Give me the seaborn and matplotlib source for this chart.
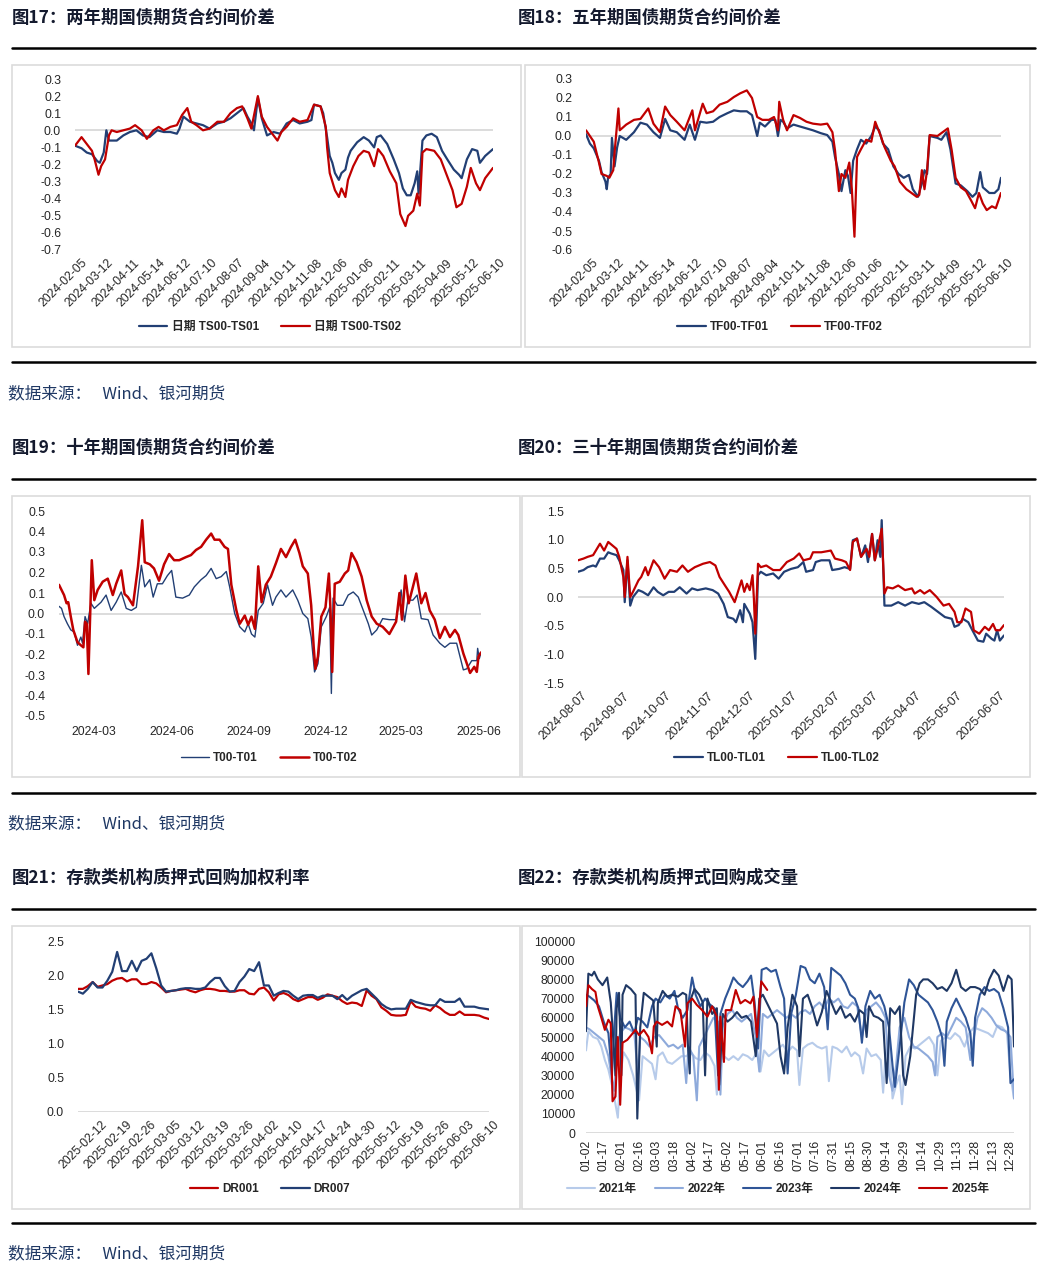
import numpy as np
import pandas as pd
import matplotlib
matplotlib.use("Agg")
import matplotlib.pyplot as plt
import matplotlib.transforms as mtrans
from matplotlib.patches import Rectangle
import seaborn as sns

sns.set_theme(style="white")
plt.rcParams['font.family'] = ['Liberation Sans', 'Noto Sans CJK SC']

W, H = 1046, 1276
NAVY = '#223f74'
RED = '#c00000'

# ---- 图17 two-year: (trading day offset, spread) ----
ts_ticks = ['2024-02-05', '2024-03-12', '2024-04-11', '2024-05-14', '2024-06-12', '2024-07-10',
            '2024-08-07', '2024-09-04', '2024-10-11', '2024-11-08', '2024-12-06', '2025-01-06',
            '2025-02-11', '2025-03-11', '2025-04-09', '2025-05-12', '2025-06-10']
ts01 = [(0, -0.09), (5, -0.105), (9, -0.13), (13, -0.14), (17, -0.18), (19, -0.19), (22, -0.13), (24, 0.0),
        (26, -0.06), (32, -0.06), (37, -0.03), (42, -0.01), (47, 0.0), (52, -0.03), (57, -0.04), (63, 0.0),
        (68, -0.01), (73, -0.01), (78, -0.02), (80, 0.01), (83, 0.08), (88, 0.05), (93, 0.04), (98, 0.03),
        (103, 0.01), (109, 0.04), (114, 0.05), (119, 0.07), (124, 0.10), (129, 0.13), (132, 0.08), (135, 0.04),
        (137, 0.0), (140, 0.19), (143, 0.07), (147, -0.03), (152, -0.01), (157, -0.02), (162, 0.04), (167, 0.06),
        (172, 0.04), (178, 0.05), (181, 0.06), (183, 0.15), (188, 0.14), (190, 0.10), (193, -0.04), (195, -0.15),
        (197, -0.19), (199, -0.25), (202, -0.29), (204, -0.25), (207, -0.23), (209, -0.16), (211, -0.12),
        (216, -0.07), (221, -0.04), (225, -0.06), (229, -0.10), (231, -0.04), (234, -0.03), (239, -0.08),
        (244, -0.17), (248, -0.25), (251, -0.34), (254, -0.38), (257, -0.38), (260, -0.31), (262, -0.24),
        (263, -0.37), (266, -0.06), (269, -0.03), (273, -0.02), (277, -0.04), (281, -0.12), (285, -0.17),
        (290, -0.23), (294, -0.26), (296, -0.28), (300, -0.17), (304, -0.11), (308, -0.12), (310, -0.19),
        (314, -0.15), (320, -0.11)]
ts02 = [(0, -0.09), (5, -0.04), (9, -0.08), (13, -0.12), (15, -0.17), (18, -0.26), (20, -0.21), (23, -0.17),
        (26, -0.03), (28, 0.0), (32, -0.01), (37, 0.0), (42, 0.01), (46, 0.03), (51, 0.0), (55, -0.05),
        (60, 0.0), (64, 0.02), (68, 0.0), (73, 0.02), (78, 0.03), (82, 0.09), (86, 0.13), (89, 0.05),
        (93, 0.03), (98, 0.0), (103, 0.01), (109, 0.05), (114, 0.05), (119, 0.10), (124, 0.13), (128, 0.14),
        (132, 0.07), (135, 0.01), (140, 0.20), (143, 0.08), (147, 0.02), (151, -0.02), (155, -0.06),
        (158, -0.01), (162, 0.02), (167, 0.07), (172, 0.05), (178, 0.06), (183, 0.15), (188, 0.14), (192, 0.02),
        (193, -0.10), (195, -0.25), (199, -0.35), (202, -0.39), (204, -0.34), (207, -0.39), (209, -0.29),
        (213, -0.21), (217, -0.15), (221, -0.12), (225, -0.13), (229, -0.21), (232, -0.11), (236, -0.15),
        (241, -0.24), (246, -0.31), (249, -0.49), (253, -0.56), (255, -0.50), (259, -0.47), (262, -0.37),
        (264, -0.44), (266, -0.13), (269, -0.11), (275, -0.12), (280, -0.17), (284, -0.25), (289, -0.35),
        (292, -0.45), (296, -0.43), (300, -0.33), (303, -0.22), (307, -0.31), (310, -0.35), (314, -0.28),
        (320, -0.22)]

# ---- 图18 five-year ----
tf01 = [(0, 0.01), (3, -0.04), (6, -0.065), (10, -0.13), (12, -0.19), (15, -0.24), (16, -0.28), (17, -0.22),
        (19, -0.20), (20, -0.01), (22, -0.16), (24, -0.06), (26, 0.0), (31, -0.02), (37, 0.02), (42, 0.07),
        (47, 0.06), (52, 0.02), (57, -0.01), (61, 0.09), (65, 0.03), (70, 0.02), (76, -0.02), (80, 0.06),
        (84, -0.02), (88, 0.075), (93, 0.07), (98, 0.075), (103, 0.10), (109, 0.12), (114, 0.135), (119, 0.13),
        (124, 0.13), (128, 0.11), (132, 0.0), (134, 0.07), (138, 0.05), (143, 0.085), (146, 0.085), (148, 0.0),
        (150, 0.085), (152, 0.075), (155, 0.04), (160, 0.06), (165, 0.05), (170, 0.04), (175, 0.03),
        (181, 0.015), (186, 0.005), (190, -0.03), (192, -0.11), (195, -0.20), (197, -0.29), (200, -0.18),
        (202, -0.21), (204, -0.30), (206, -0.13), (209, -0.07), (212, -0.02), (216, -0.04), (220, 0.0),
        (223, 0.05), (226, 0.03), (229, -0.04), (233, -0.07), (237, -0.16), (241, -0.20), (245, -0.22),
        (249, -0.205), (252, -0.28), (256, -0.32), (259, -0.25), (261, -0.18), (263, -0.20), (265, 0.0),
        (271, -0.01), (274, -0.02), (278, 0.02), (281, -0.07), (285, -0.25), (289, -0.26), (294, -0.29),
        (298, -0.32), (301, -0.30), (304, -0.19), (306, -0.27), (311, -0.30), (315, -0.30), (318, -0.28),
        (320, -0.22)]
tf02 = [(0, 0.03), (3, 0.0), (6, -0.03), (10, -0.14), (12, -0.20), (16, -0.21), (18, -0.22), (21, -0.18),
        (22, -0.09), (25, 0.145), (26, 0.03), (31, 0.06), (37, 0.085), (42, 0.09), (48, 0.145), (52, 0.065),
        (57, 0.02), (61, 0.155), (65, 0.11), (70, 0.075), (76, 0.03), (82, 0.135), (84, 0.03), (90, 0.17),
        (93, 0.12), (98, 0.13), (103, 0.165), (109, 0.18), (114, 0.205), (119, 0.225), (124, 0.24), (128, 0.20),
        (132, 0.10), (136, 0.085), (141, 0.085), (145, 0.10), (148, 0.03), (149, 0.18), (152, 0.085),
        (155, 0.03), (160, 0.11), (165, 0.095), (170, 0.075), (175, 0.065), (181, 0.06), (186, 0.065),
        (190, 0.02), (192, -0.075), (195, -0.29), (197, -0.20), (200, -0.22), (203, -0.14), (205, -0.28),
        (207, -0.53), (209, -0.11), (212, -0.07), (216, -0.02), (220, -0.03), (223, 0.075), (227, 0.005),
        (230, -0.055), (235, -0.13), (238, -0.16), (242, -0.24), (247, -0.28), (251, -0.30), (255, -0.32),
        (257, -0.31), (259, -0.18), (261, -0.28), (263, -0.18), (265, 0.005), (271, 0.0), (274, 0.015),
        (279, 0.04), (282, -0.075), (285, -0.22), (289, -0.27), (293, -0.29), (297, -0.34), (300, -0.38),
        (303, -0.30), (306, -0.355), (309, -0.39), (313, -0.37), (316, -0.38), (320, -0.30)]

# ---- 图19 ten-year: (days from 2024-03-01, spread) ----
t_base = '2024-03-01'
t01 = [(-42, 0.035), (-39, 0.025), (-36, -0.015), (-32, -0.05), (-28, -0.08), (-24, -0.09), (-20, -0.155),
       (-16, -0.115), (-14, -0.145), (-11, -0.015), (-8, -0.05), (-4, 0.05), (0, 0.025), (4, 0.04), (8, 0.055),
       (14, 0.09), (20, 0.015), (26, 0.055), (32, 0.105), (38, 0.025), (44, 0.015), (50, 0.03), (56, 0.235),
       (60, 0.13), (66, 0.165), (70, 0.08), (75, 0.145), (81, 0.145), (87, 0.185), (92, 0.21), (97, 0.08),
       (105, 0.075), (113, 0.09), (119, 0.13), (127, 0.165), (133, 0.185), (139, 0.22), (145, 0.17),
       (151, 0.18), (157, 0.205), (161, 0.13), (167, 0.0), (173, -0.065), (179, -0.09), (183, -0.05),
       (187, -0.10), (191, -0.115), (195, 0.015), (201, 0.05), (206, 0.14), (212, 0.04), (216, 0.08),
       (222, 0.115), (228, 0.08), (236, 0.115), (242, 0.065), (248, 0.0), (254, -0.025), (258, -0.115),
       (262, -0.285), (266, -0.245), (270, -0.065), (276, -0.015), (280, 0.03), (282, -0.39), (284, 0.075),
       (289, 0.04), (296, 0.04), (302, 0.09), (308, 0.105), (314, 0.08), (320, 0.015), (326, -0.05),
       (330, -0.105), (336, -0.08), (343, -0.025), (351, -0.03), (359, -0.03), (365, 0.115), (369, -0.04),
       (373, 0.065), (379, 0.065), (384, 0.09), (389, -0.025), (397, -0.03), (403, -0.105), (411, -0.145),
       (417, -0.165), (423, -0.145), (431, -0.145), (435, -0.21), (439, -0.275), (443, -0.27), (449, -0.23),
       (455, -0.23), (456, -0.17), (458, -0.22), (460, -0.19)]
t02 = [(-42, 0.14), (-39, 0.115), (-36, 0.09), (-33, 0.05), (-31, 0.055), (-28, -0.015), (-25, -0.08),
       (-20, -0.14), (-16, -0.155), (-13, -0.165), (-11, -0.04), (-9, -0.05), (-7, -0.295), (-3, 0.26),
       (0, 0.065), (4, 0.115), (10, 0.155), (16, 0.17), (22, 0.09), (26, 0.145), (32, 0.21), (36, 0.095),
       (40, 0.08), (46, 0.04), (52, 0.23), (57, 0.455), (60, 0.25), (66, 0.24), (71, 0.22), (77, 0.16),
       (83, 0.24), (89, 0.29), (95, 0.26), (101, 0.26), (109, 0.275), (115, 0.285), (121, 0.31), (127, 0.325),
       (133, 0.36), (139, 0.39), (143, 0.36), (149, 0.36), (155, 0.325), (159, 0.315), (163, 0.14),
       (169, 0.015), (173, -0.05), (179, -0.01), (183, -0.055), (187, -0.015), (191, -0.075), (195, 0.23),
       (199, 0.055), (204, 0.14), (210, 0.18), (216, 0.245), (222, 0.315), (228, 0.275), (234, 0.325),
       (239, 0.36), (244, 0.295), (248, 0.23), (254, 0.195), (258, 0.04), (261, -0.165), (263, -0.27),
       (266, -0.21), (270, -0.015), (275, 0.03), (279, 0.195), (281, 0.015), (283, -0.285), (286, 0.145),
       (292, 0.155), (298, 0.195), (302, 0.21), (306, 0.295), (312, 0.25), (318, 0.18), (324, 0.065),
       (330, -0.015), (336, -0.05), (343, -0.065), (351, -0.10), (359, -0.04), (363, 0.10), (366, -0.03),
       (370, 0.185), (374, 0.05), (379, 0.13), (383, 0.195), (389, 0.05), (394, 0.10), (399, 0.015),
       (405, -0.03), (411, -0.12), (417, -0.065), (423, -0.115), (429, -0.08), (433, -0.105), (439, -0.195),
       (447, -0.29), (452, -0.26), (455, -0.285), (457, -0.21), (460, -0.19)]

# ---- 图20 thirty-year: (days from 2024-08-07, spread) ----
tl_base = '2024-08-07'
tl01 = [(0, 0.44), (4, 0.47), (7, 0.52), (11, 0.55), (13, 0.53), (16, 0.67), (19, 0.67), (22, 0.78), (24, 0.76),
        (28, 0.73), (30, 0.64), (33, 0.47), (34, -0.09), (36, 0.64), (38, -0.15), (40, 0.0), (44, 0.12),
        (47, 0.09), (51, 0.03), (55, 0.17), (58, 0.09), (62, 0.03), (66, 0.09), (70, 0.09), (74, 0.17),
        (79, 0.06), (83, 0.15), (87, 0.12), (93, 0.15), (98, 0.12), (102, 0.06), (106, -0.12), (109, -0.35),
        (113, -0.38), (115, -0.44), (118, -0.23), (120, -0.44), (121, -0.12), (125, -0.29), (127, -0.44),
        (129, -1.08), (131, 0.38), (133, 0.44), (137, 0.38), (142, 0.41), (146, 0.32), (150, 0.44), (155, 0.49),
        (160, 0.52), (164, 0.61), (166, 0.44), (171, 0.47), (173, 0.61), (177, 0.64), (183, 0.64), (185, 0.47),
        (190, 0.49), (194, 0.52), (198, 0.49), (200, 0.99), (203, 1.02), (206, 0.70), (209, 0.90), (211, 0.61),
        (214, 1.10), (216, 0.64), (218, 0.99), (220, 0.70), (221, 1.34), (223, -0.15), (228, -0.15),
        (233, -0.09), (238, -0.15), (243, -0.09), (248, -0.12), (252, -0.09), (257, -0.17), (262, -0.26),
        (267, -0.35), (272, -0.38), (274, -0.52), (277, -0.49), (280, -0.38), (284, -0.44), (287, -0.58),
        (291, -0.76), (295, -0.78), (297, -0.64), (301, -0.73), (303, -0.76), (305, -0.58), (307, -0.76),
        (310, -0.67)]
tl02 = [(0, 0.64), (4, 0.67), (7, 0.70), (11, 0.73), (16, 0.93), (19, 0.81), (22, 0.96), (25, 0.90), (28, 0.84),
        (30, 0.70), (33, 0.35), (34, 0.0), (36, 0.70), (38, 0.0), (40, 0.09), (44, 0.29), (46, 0.35), (49, 0.52),
        (51, 0.38), (55, 0.64), (59, 0.52), (63, 0.32), (67, 0.47), (72, 0.44), (76, 0.55), (80, 0.44),
        (85, 0.52), (91, 0.58), (96, 0.61), (100, 0.55), (103, 0.35), (107, 0.20), (110, 0.09), (114, -0.09),
        (116, 0.06), (119, 0.29), (121, 0.09), (123, 0.23), (125, 0.12), (127, 0.38), (128, -0.03),
        (129, -0.64), (131, 0.58), (133, 0.52), (137, 0.55), (142, 0.47), (147, 0.47), (152, 0.61), (157, 0.67),
        (161, 0.76), (164, 0.64), (169, 0.67), (171, 0.78), (177, 0.78), (184, 0.81), (187, 0.67), (192, 0.64),
        (195, 0.61), (198, 0.47), (200, 0.96), (203, 1.02), (206, 0.70), (210, 0.84), (212, 0.70), (214, 1.10),
        (216, 0.64), (218, 0.84), (221, 1.19), (223, 0.06), (225, 0.17), (229, 0.15), (233, 0.20), (238, 0.12),
        (243, 0.15), (245, 0.06), (249, 0.12), (252, 0.06), (256, 0.12), (261, 0.0), (266, -0.15),
        (270, -0.12), (274, -0.26), (276, -0.44), (279, -0.44), (282, -0.20), (286, -0.26), (288, -0.58),
        (292, -0.64), (296, -0.52), (299, -0.58), (302, -0.47), (304, -0.58), (307, -0.58), (310, -0.49)]

# ---- 图21 DR rates, one value per trading day ----
dr_ticks = ['2025-02-12', '2025-02-19', '2025-02-26', '2025-03-05', '2025-03-12', '2025-03-19', '2025-03-26',
            '2025-04-02', '2025-04-10', '2025-04-17', '2025-04-24', '2025-04-30', '2025-05-12', '2025-05-19',
            '2025-05-26', '2025-06-03', '2025-06-10']
dr001 = [1.80, 1.80, 1.84, 1.90, 1.83, 1.85, 1.87, 1.92, 1.95, 1.96, 1.91, 1.94, 1.94, 1.87, 1.87, 1.90, 1.88,
         1.82, 1.75, 1.77, 1.78, 1.79, 1.80, 1.77, 1.75, 1.78, 1.80, 1.80, 1.79, 1.77, 1.77, 1.76, 1.76, 1.78,
         1.78, 1.73, 1.72, 1.80, 1.82, 1.75, 1.63, 1.72, 1.74, 1.71, 1.65, 1.62, 1.65, 1.68, 1.68, 1.64, 1.67,
         1.72, 1.70, 1.68, 1.62, 1.58, 1.60, 1.59, 1.55, 1.78, 1.70, 1.65, 1.53, 1.48, 1.42, 1.41, 1.41, 1.42,
         1.62, 1.54, 1.52, 1.51, 1.48, 1.56, 1.52, 1.46, 1.42, 1.42, 1.47, 1.42, 1.42, 1.42, 1.41, 1.38, 1.36]
dr007 = [1.76, 1.73, 1.80, 1.90, 1.82, 1.82, 1.92, 2.05, 2.34, 2.06, 2.06, 2.21, 2.06, 2.21, 2.24, 2.32, 2.10,
         1.85, 1.76, 1.77, 1.78, 1.80, 1.81, 1.81, 1.80, 1.80, 1.82, 1.90, 1.96, 1.96, 1.84, 1.76, 1.77, 1.90,
         1.98, 2.09, 2.06, 2.19, 1.85, 1.85, 1.70, 1.74, 1.77, 1.76, 1.70, 1.65, 1.70, 1.71, 1.71, 1.67, 1.70,
         1.70, 1.70, 1.65, 1.71, 1.64, 1.70, 1.74, 1.78, 1.80, 1.73, 1.66, 1.58, 1.53, 1.50, 1.51, 1.51, 1.51,
         1.64, 1.61, 1.59, 1.57, 1.56, 1.56, 1.65, 1.61, 1.61, 1.61, 1.66, 1.54, 1.54, 1.54, 1.52, 1.51, 1.50]

# ---- 图22 DR volume by year: (day of year, volume) ----
doy_ticks = ['01-02', '01-17', '02-01', '02-16', '03-03', '03-18', '04-02', '04-17', '05-02', '05-17', '06-01',
             '06-16', '07-01', '07-16', '07-31', '08-15', '08-30', '09-14', '09-29', '10-14', '10-29', '11-13',
             '11-28', '12-13', '12-28']
vol_2021 = [(2, 43000), (4, 53000), (8, 50000), (12, 49000), (15, 45000), (18, 38000), (21, 33000), (24, 25000),
            (27, 15000), (29, 8000), (31, 30000), (34, 42000), (38, 38000), (42, 30000), (45, 22000), (47, 17000),
            (50, 40000), (54, 38000), (58, 36000), (61, 28000), (63, 40000), (67, 42000), (71, 37000), (75, 36000),
            (79, 38000), (83, 40000), (87, 40000), (91, 42000), (95, 39000), (99, 38000), (103, 42000),
            (107, 40000), (111, 35000), (113, 20000), (115, 37000), (119, 40000), (123, 38000), (127, 40000),
            (131, 38000), (135, 41000), (139, 40000), (143, 38000), (147, 42000), (150, 32000), (153, 43000),
            (157, 40000), (161, 42000), (165, 44000), (169, 46000), (173, 42000), (177, 45000), (181, 43000),
            (183, 25000), (186, 44000), (190, 46000), (194, 47000), (198, 45000), (202, 44000), (206, 45000),
            (208, 27000), (211, 45000), (215, 44000), (219, 42000), (223, 45000), (227, 40000), (230, 42000),
            (234, 40000), (237, 31000), (240, 44000), (244, 40000), (248, 41000), (252, 38000), (254, 21000),
            (256, 40000), (259, 48000), (262, 18000), (265, 25000), (268, 30000), (270, 15000), (273, 40000),
            (277, 45000), (281, 44000), (285, 46000), (289, 48000), (293, 50000), (297, 46000), (300, 30000),
            (303, 48000), (307, 50000), (311, 49000), (315, 52000), (319, 50000), (323, 45000), (327, 52000),
            (331, 55000), (335, 54000), (339, 53000), (343, 52000), (347, 50000), (351, 56000), (355, 55000),
            (359, 52000), (362, 30000), (365, 18000)]
vol_2022 = [(2, 55000), (5, 54000), (9, 52000), (13, 50000), (17, 48000), (21, 40000), (24, 28000), (26, 22000),
            (28, 45000), (31, 52000), (35, 55000), (39, 54000), (43, 52000), (46, 30000), (48, 50000), (52, 48000),
            (56, 45000), (60, 50000), (64, 51000), (68, 48000), (72, 45000), (76, 46000), (80, 44000), (84, 46000),
            (87, 26000), (89, 45000), (93, 40000), (96, 17000), (98, 45000), (102, 50000), (106, 55000),
            (110, 60000), (114, 58000), (116, 20000), (118, 55000), (122, 62000), (126, 64000), (130, 60000),
            (134, 58000), (138, 60000), (142, 62000), (146, 50000), (149, 32000), (152, 62000), (156, 60000),
            (160, 62000), (164, 64000), (168, 62000), (172, 60000), (176, 62000), (180, 60000), (184, 63000),
            (188, 64000), (192, 62000), (196, 66000), (200, 68000), (204, 65000), (208, 70000), (212, 68000),
            (216, 70000), (220, 66000), (224, 65000), (228, 68000), (232, 66000), (236, 50000), (240, 64000),
            (244, 66000), (248, 68000), (252, 65000), (256, 60000), (259, 30000), (262, 22000), (265, 35000),
            (268, 55000), (272, 60000), (276, 50000), (280, 45000), (284, 44000), (288, 42000), (292, 40000),
            (296, 37000), (298, 30000), (300, 50000), (304, 52000), (308, 50000), (312, 55000), (316, 60000),
            (320, 58000), (324, 55000), (328, 38000), (331, 50000), (334, 60000), (338, 65000), (342, 63000),
            (346, 60000), (350, 56000), (354, 54000), (358, 53000), (362, 50000), (365, 18000)]
vol_2023 = [(2, 72000), (5, 71000), (9, 69000), (13, 66000), (17, 58000), (21, 52000), (24, 30000), (26, 55000),
            (28, 73000), (31, 60000), (35, 55000), (39, 58000), (43, 52000), (46, 60000), (50, 58000), (54, 55000),
            (58, 66000), (61, 70000), (65, 68000), (69, 72000), (73, 70000), (77, 74000), (80, 65000), (84, 60000),
            (88, 64000), (92, 81000), (95, 72000), (99, 66000), (103, 70000), (107, 67000), (111, 65000),
            (114, 30000), (116, 62000), (120, 70000), (124, 76000), (127, 81000), (131, 78000), (135, 76000),
            (139, 79000), (142, 82000), (145, 68000), (148, 44000), (151, 85000), (155, 86000), (159, 84000),
            (163, 85000), (167, 76000), (170, 70000), (173, 31000), (176, 62000), (180, 72000), (184, 87000),
            (188, 86000), (192, 80000), (196, 78000), (200, 83000), (204, 76000), (207, 54000), (210, 86000),
            (214, 84000), (218, 82000), (222, 78000), (226, 72000), (230, 70000), (233, 65000), (236, 47000),
            (239, 66000), (243, 74000), (247, 70000), (251, 72000), (255, 66000), (259, 55000), (262, 35000),
            (264, 24000), (268, 45000), (272, 68000), (276, 80000), (280, 77000), (284, 72000), (288, 70000),
            (292, 68000), (296, 64000), (300, 58000), (304, 50000), (306, 35000), (308, 58000), (312, 65000),
            (316, 70000), (320, 65000), (324, 60000), (328, 52000), (330, 35000), (332, 60000), (336, 72000),
            (340, 76000), (344, 74000), (348, 75000), (352, 73000), (356, 65000), (360, 55000), (362, 26000),
            (365, 28000)]
vol_2024 = [(2, 53000), (4, 83000), (7, 82000), (9, 84000), (12, 80000), (16, 77000), (20, 81000), (23, 68000),
            (25, 50000), (27, 30000), (28, 65000), (30, 73000), (32, 30000), (33, 72000), (36, 77000), (40, 75000),
            (44, 72000), (45.5, 7500), (48, 55000), (51, 73000), (55, 71000), (59, 69000), (62, 45000),
            (63, 68000), (67, 74000), (71, 71000), (75, 72000), (80, 71000), (84, 73000), (87, 72000),
            (88.5, 45000), (90, 31000), (91, 70000), (94, 75000), (98, 72000), (101, 68000), (103, 30000),
            (105, 70000), (109, 62000), (113, 65000), (115, 25000), (118, 62000), (122, 58000), (126, 60000),
            (130, 63000), (134, 60000), (138, 61000), (142, 58000), (146, 40000), (149, 70000), (152, 72000),
            (156, 67000), (160, 62000), (164, 57000), (167, 40000), (170, 31000), (173, 55000), (177, 72000),
            (181, 66000), (183, 40000), (186, 70000), (190, 72000), (194, 65000), (198, 56000), (202, 63000),
            (206, 74000), (210, 68000), (214, 62000), (218, 66000), (222, 60000), (226, 62000), (230, 58000),
            (234, 64000), (238, 62000), (240, 50000), (242, 66000), (246, 61000), (250, 60000), (254, 58000),
            (257, 26000), (260, 65000), (264, 62000), (268, 66000), (271, 30000), (273, 25000), (277, 40000),
            (282, 72000), (285, 78000), (288, 80000), (292, 80000), (296, 78000), (300, 75000), (304, 76000),
            (308, 74000), (312, 78000), (316, 85000), (320, 76000), (324, 74000), (328, 76000), (332, 76000),
            (336, 75000), (340, 72000), (344, 80000), (348, 85000), (352, 82000), (356, 74000), (360, 82000),
            (363, 80000), (365, 45000)]
vol_2025 = [(2, 66000), (4, 77000), (7, 75000), (10, 73500), (12, 66000), (15.5, 59000), (18, 53700), (21, 59000),
            (23, 57000), (24.5, 16500), (27, 19000), (29, 50000), (31, 14700), (33, 47000), (37, 48500),
            (44, 53700), (47, 51000), (51, 53700), (55, 50000), (58, 41500), (59.5, 55500), (62, 58000),
            (66.5, 56300), (71, 58000), (75, 55500), (78, 66000), (82, 64000), (86, 45000), (88, 67500),
            (92, 70000), (96, 66700), (100.5, 64000), (105, 60600), (109, 66000), (113, 60600), (114.7, 22500),
            (116, 60600), (119, 37000), (120.5, 64000), (125, 64000), (129, 74500), (133, 67500), (137, 69300),
            (141.5, 67500), (144, 71000), (147, 50000), (150.6, 79000), (155.7, 74500)]
vol_colors = {'2021年': '#b7cbea', '2022年': '#8eaadb', '2023年': '#2f5597', '2024年': '#1f3864', '2025年': RED}

fig = plt.figure(figsize=(W / 100, H / 100), dpi=100)


def px_axes(l, t, r, b):
    return fig.add_axes([l / W, 1 - b / H, (r - l) / W, (b - t) / H])


def frame(l, t, r, b):
    fig.patches.append(Rectangle((l / W, 1 - b / H), (r - l) / W, (b - t) / H, transform=fig.transFigure,
                                 fill=False, ec='#dcdcdc', lw=1.2))


def rule(y):
    fig.add_artist(plt.Line2D([12 / W, 1035 / W], [1 - y / H] * 2, color='black', lw=1.8))


def style(ax, yticks, fmt):
    ax.set_ylim(min(yticks), max(yticks))
    ax.set_yticks(yticks)
    ax.set_yticklabels([fmt.format(round(v, 1) + 0.0) for v in yticks])
    for s in ax.spines.values():
        s.set_visible(False)
    ax.axhline(0, color='#d9d9d9', lw=1.3, zorder=0)
    ax.tick_params(axis='both', length=0, labelsize=8.8, colors='#262626')
    ax.tick_params(axis='y', pad=10)
    ax.set_xlabel('')
    ax.set_ylabel('')
    ax.grid(False)


def rot_labels(ax, dx=6, rot=45, pad=5):
    ax.tick_params(axis='x', pad=pad)
    off = mtrans.ScaledTranslation(dx / 100, 0, fig.dpi_scale_trans)
    for lab in ax.get_xticklabels():
        lab.set_rotation(rot)
        lab.set_ha('right')
        lab.set_va('top')
        lab.set_rotation_mode('anchor')
        lab.set_transform(lab.get_transform() + off)


def legend(ax, cx, cy, colspace=1.9):
    ax.legend(loc='center', bbox_to_anchor=(cx / W, 1 - cy / H), bbox_transform=fig.transFigure,
              ncol=len(ax.get_lines()), frameon=False, handlelength=2.4, handletextpad=0.35,
              columnspacing=colspace, prop={'weight': 'bold', 'size': 8.5})


def draw(ax, pts, color, label, lw=1.6, x_as_date=None):
    arr = np.array(pts, dtype=float)
    x = arr[:, 0]
    if x_as_date is not None:
        x = pd.Timestamp(x_as_date) + pd.to_timedelta(x, unit='D')
    sns.lineplot(x=x, y=arr[:, 1], ax=ax, color=color, lw=lw, label=label)


def title(x, y, s):
    fig.text(x / W, 1 - y / H, s, fontsize=12.5, fontweight='bold', family=['Noto Sans CJK SC'],
             va='center', ha='left', color='#141a2e')


def source(y):
    fig.text(8 / W, 1 - y / H, '数据来源：   Wind、银河期货', fontsize=12, family=['Noto Sans CJK SC'],
             va='center', ha='left', color='#1f3864')


# frame, rules, titles
for yt, yr1, yr2, ys, n1, n2 in [(18, 48, 362, 394, '图17：两年期国债期货合约间价差', '图18：五年期国债期货合约间价差'),
                                 (448, 479, 793, 824, '图19：十年期国债期货合约间价差', '图20：三十年期国债期货合约间价差'),
                                 (878, 909, 1223, 1254, '图21：存款类机构质押式回购加权利率', '图22：存款类机构质押式回购成交量')]:
    title(12, yt, n1)
    title(518, yt, n2)
    rule(yr1)
    rule(yr2)
    source(ys)
frame(12, 65, 521, 347)
frame(525, 65, 1030, 347)
frame(12, 496, 520, 777)
frame(522, 496, 1030, 777)
frame(12, 926, 520, 1209)
frame(522, 926, 1030, 1209)

# 图17
ax = px_axes(75, 79, 493, 250)
draw(ax, ts01, NAVY, '日期 TS00-TS01')
draw(ax, ts02, RED, '日期 TS00-TS02')
ax.set_xlim(0, 320)
style(ax, [0.3, 0.2, 0.1, 0.0, -0.1, -0.2, -0.3, -0.4, -0.5, -0.6, -0.7], '{:.1f}')
ax.set_xticks(np.arange(len(ts_ticks)) * 20)
ax.set_xticklabels(ts_ticks)
rot_labels(ax)
legend(ax, 270, 327)

# 图18
ax = px_axes(586, 79, 1001, 250)
draw(ax, tf01, NAVY, 'TF00-TF01')
draw(ax, tf02, RED, 'TF00-TF02')
ax.set_xlim(0, 320)
style(ax, [0.3, 0.2, 0.1, 0.0, -0.1, -0.2, -0.3, -0.4, -0.5, -0.6], '{:.1f}')
ax.set_xticks(np.arange(len(ts_ticks)) * 20)
ax.set_xticklabels(ts_ticks)
rot_labels(ax)
legend(ax, 780, 327)

# 图19
ax = px_axes(59, 511, 481, 716)
draw(ax, t01, NAVY, 'T00-T01', lw=1.0, x_as_date=t_base)
draw(ax, t02, RED, 'T00-T02', lw=1.8, x_as_date=t_base)
ax.set_xlim(pd.Timestamp(t_base) - pd.Timedelta(days=42), pd.Timestamp(t_base) + pd.Timedelta(days=460))
style(ax, [0.5, 0.4, 0.3, 0.2, 0.1, 0.0, -0.1, -0.2, -0.3, -0.4, -0.5], '{:.1f}')
t_ticks = pd.date_range(t_base, periods=6, freq=pd.DateOffset(months=3))
ax.set_xticks(t_ticks)
ax.set_xticklabels([d.strftime('%Y-%m') for d in t_ticks])
ax.tick_params(axis='x', pad=7)
legend(ax, 269, 758)

# 图20
ax = px_axes(578, 511, 1004, 683)
draw(ax, tl01, NAVY, 'TL00-TL01', x_as_date=tl_base)
draw(ax, tl02, RED, 'TL00-TL02', x_as_date=tl_base)
ax.set_xlim(pd.Timestamp(tl_base), pd.Timestamp(tl_base) + pd.Timedelta(days=310))
style(ax, [1.5, 1.0, 0.5, 0.0, -0.5, -1.0, -1.5], '{:.1f}')
tl_ticks = pd.date_range(tl_base, periods=11, freq=pd.DateOffset(months=1))
ax.set_xticks(tl_ticks)
ax.set_xticklabels([d.strftime('%Y-%m-%d') for d in tl_ticks])
rot_labels(ax, dx=3)
legend(ax, 777, 758)

# 图21
ax = px_axes(78, 941, 489, 1112)
idx = np.arange(len(dr001))
sns.lineplot(x=idx, y=dr001, ax=ax, color=RED, lw=1.6, label='DR001')
sns.lineplot(x=idx, y=dr007, ax=ax, color=NAVY, lw=1.6, label='DR007')
ax.set_xlim(0, len(dr001) - 1)
style(ax, [0.0, 0.5, 1.0, 1.5, 2.0, 2.5], '{:.1f}')
ax.set_xticks(4 + 5 * np.arange(len(dr_ticks)))
ax.set_xticklabels(dr_ticks)
rot_labels(ax, dx=4)
legend(ax, 270, 1189)

# 图22
ax = px_axes(586, 941, 1014, 1133)
for name, pts in zip(vol_colors, [vol_2021, vol_2022, vol_2023, vol_2024, vol_2025]):
    draw(ax, pts, vol_colors[name], name, lw=1.5)
ax.set_xlim(2, 365)
style(ax, list(range(0, 100001, 10000)), '{:.0f}')
ax.set_xticks(2 + 15 * np.arange(len(doy_ticks)))
ax.set_xticklabels(doy_ticks, rotation=90, ha='center', va='top')
ax.tick_params(axis='x', pad=5)
ax.tick_params(axis='y', pad=8)
legend(ax, 778, 1189, colspace=1.5)

fig.savefig('out.png', dpi=100)
